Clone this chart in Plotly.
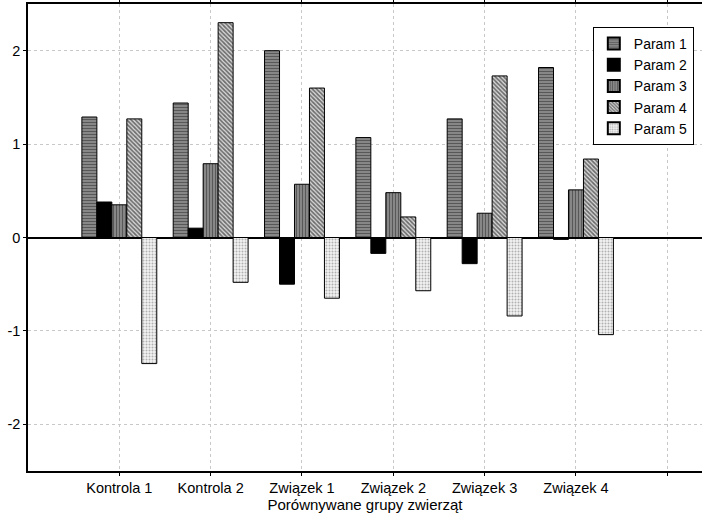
import plotly.graph_objects as go

categories = ["Kontrola 1", "Kontrola 2", "Związek 1", "Związek 2", "Związek 3", "Związek 4"]
series_names = ["Param 1", "Param 2", "Param 3", "Param 4", "Param 5"]
param1 = [1.29, 1.44, 2.00, 1.07, 1.27, 1.82]
param2 = [0.38, 0.10, -0.50, -0.17, -0.28, -0.02]
param3 = [0.35, 0.79, 0.57, 0.48, 0.26, 0.51]
param4 = [1.27, 2.30, 1.60, 0.22, 1.73, 0.84]
param5 = [-1.35, -0.48, -0.65, -0.57, -0.84, -1.04]
y_ticks = [-2, -1, 0, 1, 2]
y_tick_labels = ["-2", "-1", "0", "1", "2"]

values = [param1, param2, param3, param4, param5]
positions = list(range(1, len(categories) + 1))

styles = [
    dict(color="#606060", pattern=dict(shape="-", fgcolor="#202020", bgcolor="#909090", size=3, solidity=0.45)),
    dict(color="#000000"),
    dict(color="#606060", pattern=dict(shape="|", fgcolor="#202020", bgcolor="#909090", size=3, solidity=0.45)),
    dict(color="#ffffff", pattern=dict(shape="\\", fgcolor="#000000", bgcolor="#d8d8d8", size=3, solidity=0.55)),
    dict(color="#ffffff", pattern=dict(shape=".", fgcolor="#707070", bgcolor="#f2f2f2", size=3, solidity=0.35)),
]

fig = go.Figure()
for name, vals, st in zip(series_names, values, styles):
    marker = dict(color=st["color"], line=dict(color="#000000", width=1))
    if "pattern" in st:
        marker["pattern"] = st["pattern"]
    fig.add_trace(go.Bar(x=positions, y=vals, name=name, marker=marker))

font_family = "Liberation Sans, Arial, sans-serif"
fig.update_layout(
    width=702, height=518,
    margin=dict(l=28, r=0, t=4, b=47),
    paper_bgcolor="white", plot_bgcolor="white",
    barmode="group", bargap=0.18, bargroupgap=0,
    font=dict(family=font_family, size=14.5, color="#000000"),
    showlegend=True,
    legend=dict(
        x=0.838, y=0.951, xanchor="left", yanchor="top",
        bgcolor="white", bordercolor="#000000", borderwidth=1,
        font=dict(size=14), tracegroupgap=0, itemsizing="constant",
        itemwidth=30,
    ),
    xaxis=dict(
        range=[0, 7.38],
        automargin=False,
        tickmode="array",
        tickvals=positions + [len(categories) + 1],
        ticktext=categories + [""],
        showgrid=True, gridcolor="#c8c8c8", griddash="dot", gridwidth=1,
        showline=True, linecolor="#000000", linewidth=1.5, mirror="ticks",
        ticks="outside", ticklen=3, tickcolor="#000000",
        zeroline=False,
        title=dict(text="Porównywane grupy zwierząt", standoff=0, font=dict(size=15)),
    ),
    yaxis=dict(
        range=[-2.5, 2.5],
        automargin=False,
        tickmode="array", tickvals=y_ticks, ticktext=y_tick_labels,
        showgrid=True, gridcolor="#c8c8c8", griddash="dot", gridwidth=1,
        showline=True, linecolor="#000000", linewidth=1.5, mirror=False,
        ticks="outside", ticklen=3, tickcolor="#000000",
        zeroline=True, zerolinecolor="#000000", zerolinewidth=1.5,
    ),
)

fig.write_html(
    "out.html",
    config={"displayModeBar": False},
    post_script="document.body.style.margin='0px';document.body.style.overflow='hidden';",
)
